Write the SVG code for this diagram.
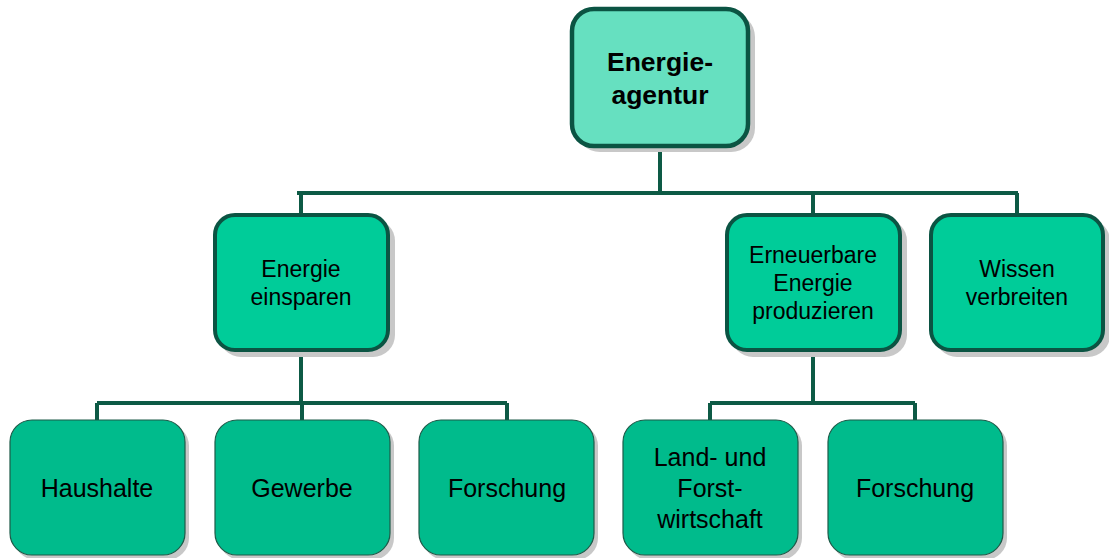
<svg xmlns="http://www.w3.org/2000/svg" width="1109" height="558" viewBox="0 0 1109 558">
<style>
.sh{fill:#c8c8c8}
.l1{fill:#66e0c0;stroke:#0b5443;stroke-width:4.5}
.l2{fill:#00cc99;stroke:#0b5443;stroke-width:4}
.l3{fill:#00bb8c;stroke:#1d5a48;stroke-width:1.2}
.t{font-family:"Liberation Sans",Arial,sans-serif;fill:#000;text-anchor:middle}
.tb{font-size:26.5px;font-weight:bold}
.t2{font-size:23px}
.t3{font-size:25px}
.c{fill:none;stroke:#0d5a45;stroke-width:4}
</style>
<rect width="1109" height="558" fill="#fff"/>
<g id="connectors">
<path class="c" d="M660 147V193M297 193H1018M301 193V213M813 193V213M1017 193V213"/>
<path class="c" d="M301 352V403M97 403H507M97 403V420M302 403V420M507 403V420"/>
<path class="c" d="M813 352V403M710 403H915M710 403V420M915 403V420"/>
</g>
<g id="n-agentur">
<rect class="sh" x="576" y="13" width="179" height="139" rx="24"/>
<rect class="l1" x="572" y="9" width="176" height="137" rx="22"/>
<text class="t tb" x="660" y="71">Energie-</text>
<text class="t tb" x="660" y="104">agentur</text>
</g>
<g id="n-einsparen">
<rect class="sh" x="219" y="219" width="176" height="138" rx="22"/>
<rect class="l2" x="215" y="215" width="173" height="135" rx="20"/>
<text class="t t2" x="301" y="277">Energie</text>
<text class="t t2" x="301" y="305">einsparen</text>
</g>
<g id="n-erneuerbar">
<rect class="sh" x="731" y="219" width="176" height="138" rx="22"/>
<rect class="l2" x="727" y="215" width="173" height="135" rx="20"/>
<text class="t t2" x="813" y="263">Erneuerbare</text>
<text class="t t2" x="813" y="291">Energie</text>
<text class="t t2" x="813" y="319">produzieren</text>
</g>
<g id="n-wissen">
<rect class="sh" x="935" y="219" width="175" height="138" rx="22"/>
<rect class="l2" x="931" y="215" width="172" height="135" rx="20"/>
<text class="t t2" x="1017" y="277">Wissen</text>
<text class="t t2" x="1017" y="305">verbreiten</text>
</g>
<g id="n-haushalte">
<rect class="sh" x="14" y="424" width="175" height="136" rx="22"/>
<rect class="l3" x="10" y="420" width="175" height="135" rx="22"/>
<text class="t t3" x="97" y="497">Haushalte</text>
</g>
<g id="n-gewerbe">
<rect class="sh" x="219" y="424" width="175" height="136" rx="22"/>
<rect class="l3" x="215" y="420" width="175" height="135" rx="22"/>
<text class="t t3" x="302" y="497">Gewerbe</text>
</g>
<g id="n-forschung1">
<rect class="sh" x="423" y="424" width="175" height="136" rx="22"/>
<rect class="l3" x="419" y="420" width="175" height="135" rx="22"/>
<text class="t t3" x="507" y="497">Forschung</text>
</g>
<g id="n-landforst">
<rect class="sh" x="627" y="424" width="175" height="136" rx="22"/>
<rect class="l3" x="623" y="420" width="175" height="135" rx="22"/>
<text class="t t3" x="710" y="466">Land- und</text>
<text class="t t3" x="710" y="497">Forst-</text>
<text class="t t3" x="710" y="528">wirtschaft</text>
</g>
<g id="n-forschung2">
<rect class="sh" x="832" y="424" width="175" height="136" rx="22"/>
<rect class="l3" x="828" y="420" width="175" height="135" rx="22"/>
<text class="t t3" x="915" y="497">Forschung</text>
</g>
</svg>
